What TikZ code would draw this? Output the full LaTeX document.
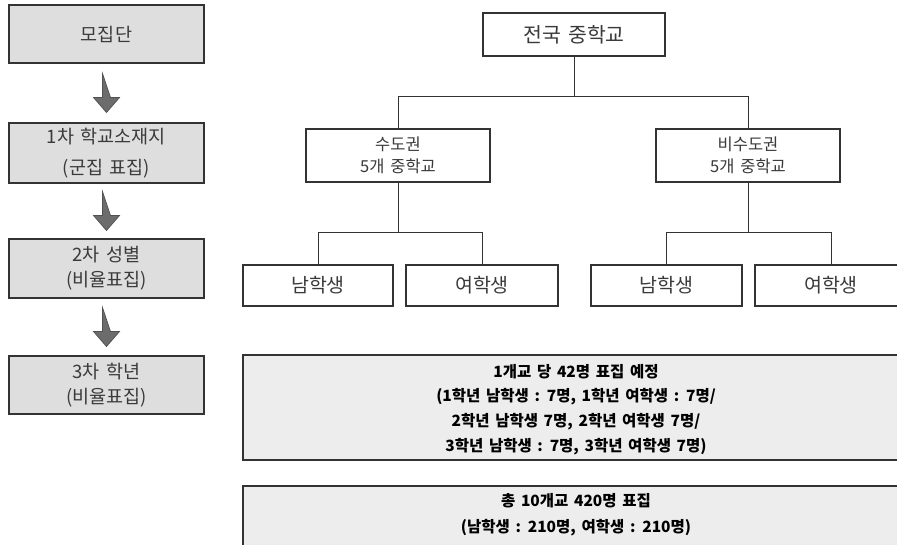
\documentclass[tikz,border=0pt]{standalone}
\usepackage{fontspec}
\setmainfont{Noto Sans CJK KR}[WordSpace=1.6]
\usetikzlibrary{calc}
\definecolor{leftfill}{HTML}{DEDEDE}
\definecolor{bigfill}{HTML}{EDEDED}
\definecolor{edgegray}{HTML}{333333}
\definecolor{txtgray}{HTML}{3A3A3A}
\definecolor{arrowgray}{HTML}{6C6C6C}
\tikzset{
  leftbox/.style={draw=edgegray, line width=1.3pt, fill=leftfill, text=txtgray,
    minimum width=195pt, align=center, inner sep=0pt,
    font=\fontsize{18.5pt}{25pt}\selectfont},
  treebox/.style={draw=edgegray, line width=2.8pt, fill=white, text=txtgray,
    align=center, inner sep=0pt},
  bigbox/.style={draw=edgegray, line width=1.3pt, fill=bigfill, inner sep=0pt},
  bigtext/.style={text=black, font=\bfseries\fontsize{15.5pt}{20pt}\selectfont, inner sep=0pt},
  conn/.style={draw=edgegray, line width=1pt},
  blockarrow/.style={fill=arrowgray, draw=arrowgray!75!black, line width=0.7pt}
}
\begin{document}
\begin{tikzpicture}[x=1pt,y=-1pt]
\useasboundingbox (0,0) rectangle (897,544);
\fill[white] (0,0) rectangle (897,544);
\clip (0,0) rectangle (897,544);

% left column
\node[leftbox, minimum height=58pt] (b1) at (106.5,34) {모집단};
\node[leftbox, minimum height=60pt, font=\fontsize{18.5pt}{31pt}\selectfont] (b2) at (106.5,153) {1차 학교소재지\\(군집 표집)};
\node[leftbox, minimum height=59pt] (b3) at (106.5,268.5) {2차 성별\\(비율표집)};
\node[leftbox, minimum height=58pt] (b4) at (106.5,385) {3차 학년\\(비율표집)};

\foreach \a/\b in {b1/b2, b2/b3, b3/b4}{
  \coordinate (m) at ($(\a.south)!0.5!(\b.north)$);
  \draw[blockarrow] ($(m)+(-4,-19.5)$) -- ++(0,24) -- ++(-9,0) -- ++(13,15) -- ++(13,-15) -- ++(-9,0) -- cycle;
}

% tree
\node[treebox, minimum width=182pt, minimum height=43pt, font=\fontsize{20.5pt}{22pt}\selectfont] (top) at (574,34.5) {전국 중학교};
\node[treebox, minimum width=184pt, minimum height=53pt, font=\fontsize{16.5pt}{22pt}\selectfont] (ml) at (398,155.5) {수도권\\5개 중학교};
\node[treebox, minimum width=184pt, minimum height=53pt, font=\fontsize{16.5pt}{22pt}\selectfont] (mr) at (748,155.5) {비수도권\\5개 중학교};
\node[treebox, minimum width=150pt, minimum height=41pt, font=\fontsize{19.5pt}{22pt}\selectfont] (la) at (318,285.5) {남학생};
\node[treebox, minimum width=152pt, minimum height=41pt, font=\fontsize{19.5pt}{22pt}\selectfont] (lb) at (482,285.5) {여학생};
\node[treebox, minimum width=151pt, minimum height=41pt, font=\fontsize{19.5pt}{22pt}\selectfont] (ra) at (666.5,285.5) {남학생};
\node[treebox, minimum width=152pt, minimum height=41pt, font=\fontsize{19.5pt}{22pt}\selectfont] (rb) at (831,285.5) {여학생};

\coordinate (busTop) at ($(top.south)+(0,39)$);
\draw[conn] (top.south) -- (busTop);
\draw[conn] (busTop) -| (ml.north);
\draw[conn] (busTop) -| (mr.north);
\coordinate (busL) at ($(ml.south)+(0,49)$);
\draw[conn] (ml.south) -- (busL);
\draw[conn] (busL) -| (la.north);
\draw[conn] (busL) -| (lb.north);
\coordinate (busR) at ($(mr.south)+(0,49)$);
\draw[conn] (mr.south) -- (busR);
\draw[conn] (busR) -| (ra.north);
\draw[conn] (busR) -| (rb.north);

% bottom summary boxes
\node[bigbox, minimum width=667pt, minimum height=105pt] (s1) at (576.5,407.5) {};
\node[bigtext] (s1a) at (576,372) {1개교 당 42명 표집 예정};
\node[bigtext] (s1b) at (576,397) {(1학년 남학생 : 7명, 1학년 여학생 : 7명/};
\node[bigtext] (s1c) at (576,422) {2학년 남학생 7명, 2학년 여학생 7명/};
\node[bigtext] (s1d) at (576,447) {3학년 남학생 : 7명, 3학년 여학생 7명)};

\node[bigbox, minimum width=667pt, minimum height=80pt] (s2) at (576.5,526) {};
\node[bigtext] (s2a) at (576,501) {총 10개교 420명 표집};
\node[bigtext] (s2b) at (576,528) {(남학생 : 210명, 여학생 : 210명)};
\end{tikzpicture}
\end{document}
